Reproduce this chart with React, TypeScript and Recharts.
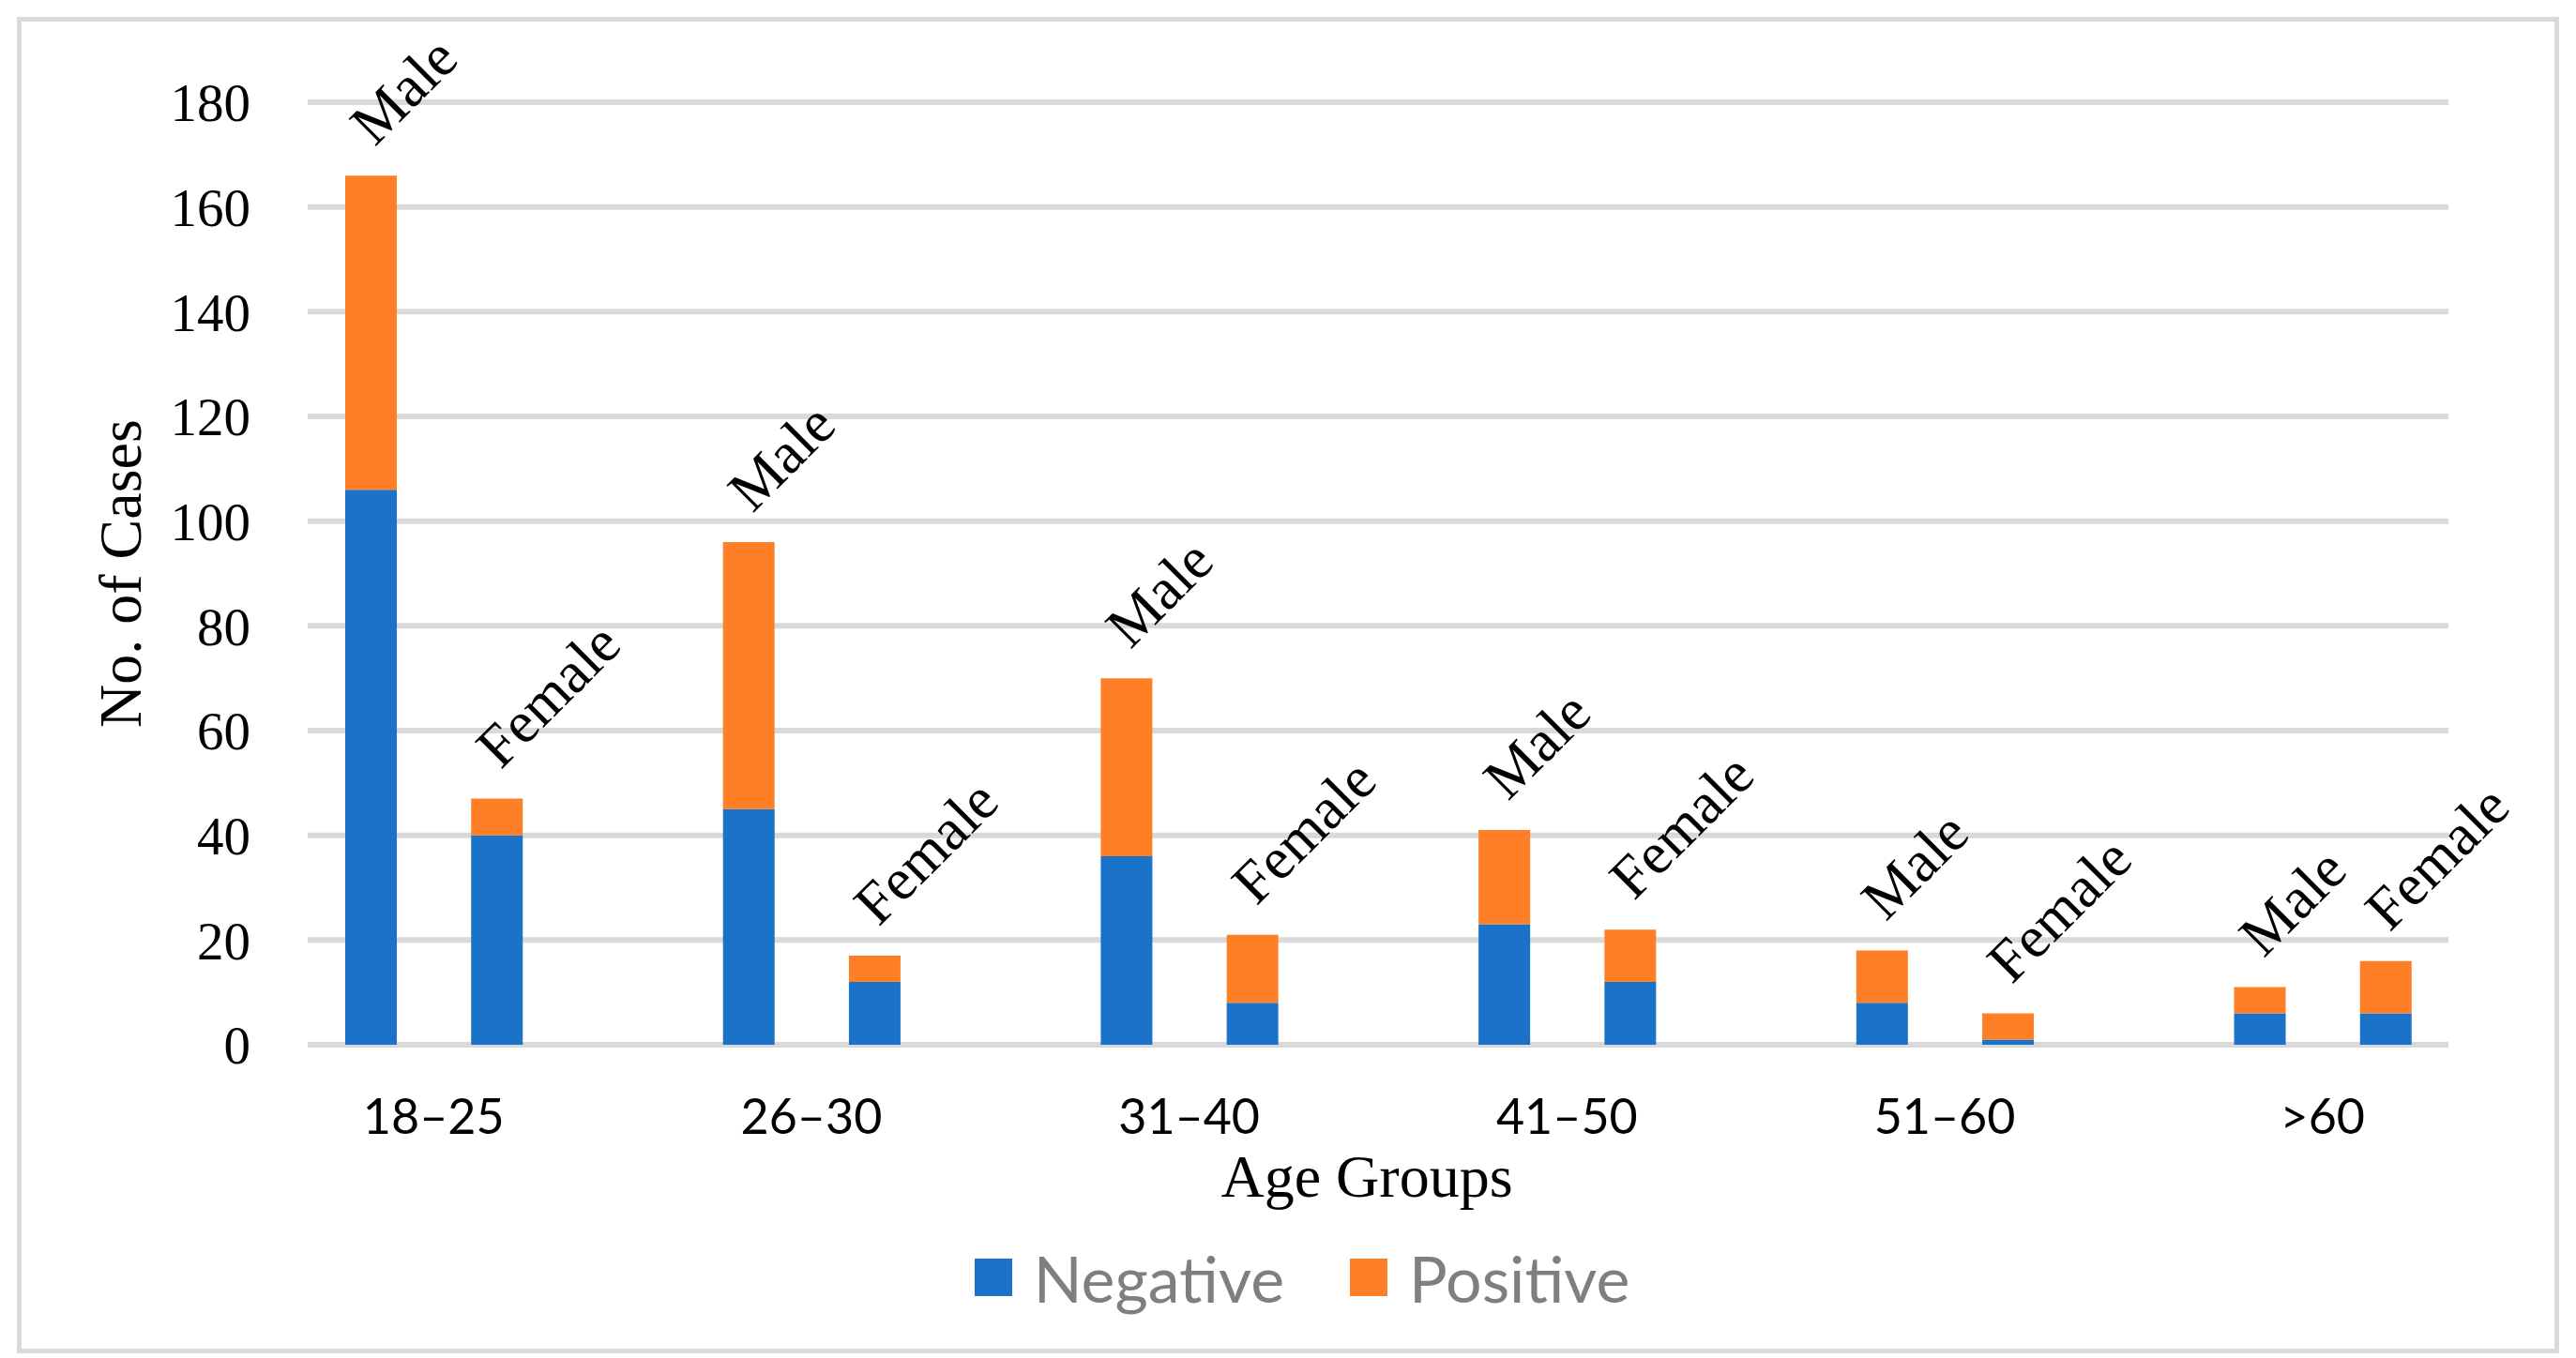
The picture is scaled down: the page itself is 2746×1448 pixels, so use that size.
import { Bar, BarChart, CartesianGrid, LabelList, Legend, XAxis, YAxis } from 'recharts';

// Stacked test results by age group, one male and one female column per group.

const groups = ['18–25', '26–30', '31–40', '41–50', '51–60', '>60'];
const maleNegative = [106, 45, 36, 23, 8, 6];
const malePositive = [60, 51, 34, 18, 10, 5];
const femaleNegative = [40, 12, 8, 12, 1, 6];
const femalePositive = [7, 5, 13, 10, 5, 10];
const yTicks = [0, 20, 40, 60, 80, 100, 120, 140, 160, 180];

const BLUE = '#1a73c8';
const ORANGE = '#ff7f27';
const GRID = '#d9d9d9';
const SERIF = '"Liberation Serif", "Times New Roman", serif';
const SANS = 'Lato, "Open Sans", sans-serif';

// each group takes three slots: male, female, empty gap
const rows = groups.flatMap((g, i) => [
  { x: i * 3, group: g, gender: 'Male', negative: maleNegative[i], positive: malePositive[i] },
  { x: i * 3 + 1, group: g, gender: 'Female', negative: femaleNegative[i], positive: femalePositive[i] },
]);
const groupTicks = groups.map((_, i) => i * 3 + 0.5);

function groupLabel(v: number): string {
  return groups[Math.round((v - 0.5) / 3)] ?? '';
}

function GenderLabel(props: any) {
  const { x, y, width, value } = props;
  const px = Number(x) + Number(width) / 2 + 4;
  const py = Number(y) - 30;
  return (
    <text
      x={px}
      y={py}
      transform={`rotate(-45 ${px} ${py})`}
      fontFamily={SERIF}
      fontSize={63}
      fill="#000"
    >
      {value}
    </text>
  );
}

function YTitle(props: any) {
  const vb = props.viewBox ?? {};
  const cx = vb.x + 110;
  const cy = vb.y + vb.height / 2;
  return (
    <text
      x={cx}
      y={cy}
      transform={`rotate(-90 ${cx} ${cy})`}
      textAnchor="middle"
      fontFamily={SERIF}
      fontSize={64}
      fill="#000"
    >
      No. of Cases
    </text>
  );
}

function XTitle(props: any) {
  const vb = props.viewBox ?? {};
  return (
    <text
      x={vb.x + vb.width / 2 - 12}
      y={vb.y + 162}
      textAnchor="middle"
      fontFamily={SERIF}
      fontSize={64}
      fill="#000"
    >
      Age Groups
    </text>
  );
}

function LegendContent(props: any) {
  const payload = props.payload ?? [];
  return (
    <div
      style={{
        display: 'flex',
        justifyContent: 'center',
        alignItems: 'center',
        gap: 70,
        paddingLeft: 30,
        height: 80,
        fontFamily: SANS,
        fontSize: 68,
        color: '#7f7f7f',
      }}
    >
      {payload.map((p: any) => (
        <div key={p.value} style={{ display: 'flex', alignItems: 'center' }}>
          <span style={{ width: 40, height: 40, background: p.color, marginRight: 23 }} />
          <span>{p.value}</span>
        </div>
      ))}
    </div>
  );
}

export default function App() {
  return (
    <div style={{ position: 'absolute', left: 0, top: 0, width: 2746, height: 1448, background: '#fff' }}>
      <div
        style={{
          position: 'absolute',
          left: 18,
          top: 18,
          width: 2710,
          height: 1425,
          boxSizing: 'border-box',
          border: `5px solid ${GRID}`,
        }}
      />
      <div style={{ position: 'absolute', left: 0, top: 0 }}>
        <BarChart
          width={2746}
          height={1448}
          data={rows}
          margin={{ top: 109, right: 136, bottom: 234, left: 40 }}
        >
          <CartesianGrid vertical={false} stroke={GRID} strokeWidth={6} />
          <XAxis
            type="number"
            dataKey="x"
            domain={[-0.5, 16.5]}
            ticks={groupTicks}
            interval={0}
            tickFormatter={groupLabel}
            axisLine={false}
            tickLine={false}
            tickMargin={52}
            height={100}
            tick={{ fill: '#000', fontFamily: SANS, fontSize: 52 }}
            label={XTitle}
          />
          <YAxis
            domain={[0, 180]}
            ticks={yTicks}
            interval={0}
            axisLine={false}
            tickLine={false}
            tickMargin={55}
            width={288}
            tick={{ fill: '#000', fontFamily: SERIF, fontSize: 57 }}
            label={YTitle}
          />
          <Legend
            verticalAlign="middle"
            align="center"
            wrapperStyle={{ top: 1322, left: 0, width: 2746 }}
            content={LegendContent}
          />
          <Bar dataKey="negative" name="Negative" stackId="s" fill={BLUE} barSize={55} isAnimationActive={false} />
          <Bar dataKey="positive" name="Positive" stackId="s" fill={ORANGE} barSize={55} isAnimationActive={false}>
            <LabelList dataKey="gender" content={GenderLabel} />
          </Bar>
        </BarChart>
      </div>
    </div>
  );
}
